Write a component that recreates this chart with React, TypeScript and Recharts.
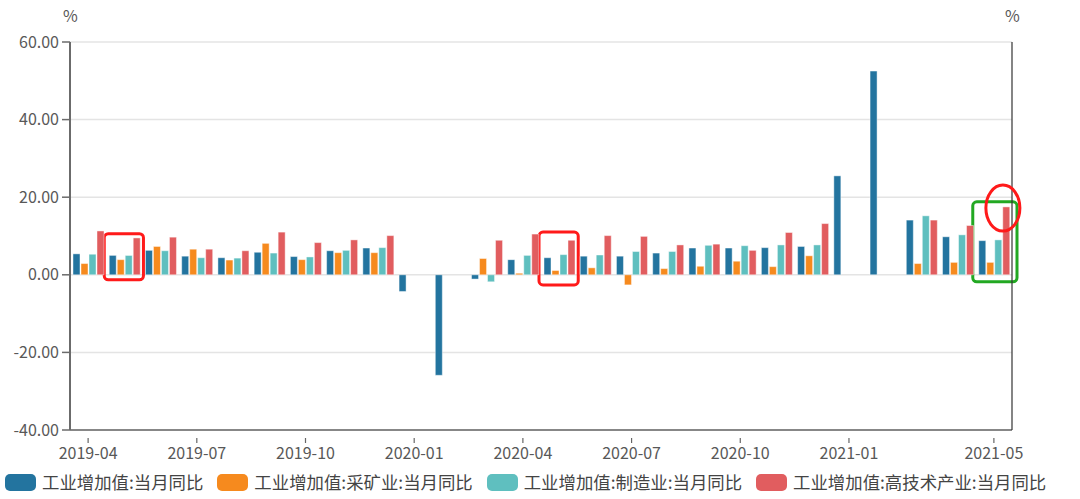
import React from "react";
import {
  BarChart,
  Bar,
  XAxis,
  YAxis,
  CartesianGrid,
  ReferenceArea,
  ReferenceDot,
} from "recharts";

const months = [
  "2019-04", "2019-05", "2019-06", "2019-07", "2019-08", "2019-09", "2019-10",
  "2019-11", "2019-12", "2020-01", "2020-02", "2020-03", "2020-04", "2020-05",
  "2020-06", "2020-07", "2020-08", "2020-09", "2020-10", "2020-11", "2020-12",
  "2021-01", "2021-02", "2021-03", "2021-04", "2021-05",
];

const total = [
  5.4, 5.0, 6.3, 4.8, 4.4, 5.8, 4.7, 6.2, 6.9, -4.3, -25.9, -1.1, 3.9,
  4.4, 4.8, 4.8, 5.6, 6.9, 6.9, 7.0, 7.3, 25.5, 52.5, 14.1, 9.8, 8.8,
];
const mining = [
  2.9, 3.9, 7.3, 6.6, 3.8, 8.1, 3.9, 5.7, 5.7, null, null, 4.2, 0.4,
  1.1, 1.8, -2.6, 1.6, 2.2, 3.5, 2.1, 4.9, null, null, 2.9, 3.2, 3.2,
];
const manufacturing = [
  5.3, 5.0, 6.2, 4.4, 4.3, 5.6, 4.6, 6.3, 7.0, null, null, -1.8, 5.0,
  5.2, 5.1, 6.0, 6.0, 7.6, 7.5, 7.7, 7.7, null, null, 15.2, 10.3, 9.0,
];
const hightech = [
  11.3, 9.5, 9.7, 6.6, 6.2, 11.0, 8.3, 9.0, 10.1, null, null, 8.9, 10.5,
  8.9, 10.1, 9.9, 7.7, 7.9, 6.3, 10.9, 13.2, null, null, 14.1, 12.7, 17.5,
];

const tickLabels = [
  "2019-04", "2019-07", "2019-10", "2020-01", "2020-04",
  "2020-07", "2020-10", "2021-01", "2021-05",
];
const yTicks = [-40, -20, 0, 20, 40, 60];

const seriesNames = [
  "工业增加值:当月同比",
  "工业增加值:采矿业:当月同比",
  "工业增加值:制造业:当月同比",
  "工业增加值:高技术产业:当月同比",
];
const seriesKeys = ["total", "mining", "manufacturing", "hightech"];
const colors = ["#23749f", "#f68a1e", "#5fbfbf", "#e15d5f"];

// highlighted groups: month, y range
const redBoxes = [
  { month: "2019-05", y1: -1.3, y2: 10.6 },
  { month: "2020-05", y1: -2.6, y2: 11.0 },
];
const greenBox = { month: "2021-05", y1: -1.8, y2: 18.8 };
const circleMark = { month: "2021-05", y: 17.2 };

const data = months.map((m, i) => ({
  month: m,
  total: total[i],
  mining: mining[i],
  manufacturing: manufacturing[i],
  hightech: hightech[i],
}));

const FONT = '"Noto Sans CJK SC", "Noto Sans", sans-serif';
const TXT = "#585858";

const XTick = (props: any) => {
  const { x, y, payload } = props;
  if (!tickLabels.includes(payload.value)) return null;
  return (
    <g>
      <line x1={x} x2={x} y1={y} y2={y + 5} stroke="#666" strokeWidth={1.2} />
      <text x={x} y={y + 21} textAnchor="middle" fill={TXT} fontSize={16} fontFamily={FONT}>
        {payload.value}
      </text>
    </g>
  );
};

const boxShape = (stroke: string, padL: number, padR: number) => (p: any) => {
  const { x, y, width, height } = p;
  if (x == null) return null;
  return (
    <rect
      x={x - padL}
      y={y}
      width={width + padL + padR}
      height={height}
      rx={4}
      ry={4}
      fill="none"
      stroke={stroke}
      strokeWidth={3}
    />
  );
};

const circleShape = (p: any) => (
  <ellipse cx={p.cx + 9} cy={p.cy} rx={17} ry={23} fill="none" stroke="#ff1a1a" strokeWidth={3} />
);

export default function App() {
  return (
    <div style={{ position: "fixed", left: 0, top: 0, width: 1080, height: 499, background: "#fff", fontFamily: FONT }}>
      <div style={{ position: "absolute", left: 63, top: 3, fontSize: 16, color: TXT }}>%</div>
      <div style={{ position: "absolute", left: 1005, top: 3, fontSize: 16, color: TXT }}>%</div>
      <BarChart
        width={1080}
        height={499}
        data={data}
        margin={{ top: 42, right: 0, left: 0, bottom: 39 }}
        barSize={7}
        barGap={1}
      >
        <CartesianGrid yAxisId="left" vertical={false} stroke="#e4e4e4" strokeWidth={1.5} />
        <XAxis
          dataKey="month"
          interval={0}
          tickLine={false}
          tick={<XTick />}
          height={30}
          axisLine={{ stroke: "#666", strokeWidth: 1.5 }}
        />
        <YAxis
          yAxisId="left"
          domain={[-40, 60]}
          ticks={yTicks}
          width={70}
          tickSize={8}
          tickMargin={3}
          tickFormatter={(v: number) => v.toFixed(2)}
          tick={{ fill: TXT, fontSize: 16, fontFamily: FONT }}
          axisLine={{ stroke: "#6b6b6b", strokeWidth: 2 }}
          tickLine={{ stroke: "#6b6b6b", strokeWidth: 1.5 }}
        />
        <YAxis
          yAxisId="right"
          orientation="right"
          domain={[-40, 60]}
          ticks={yTicks}
          width={68}
          tickSize={8}
          tickMargin={2}
          tickFormatter={(v: number) => v.toFixed(2)}
          tick={{ fill: TXT, fontSize: 16, fontFamily: FONT, textAnchor: "start" }}
          axisLine={{ stroke: "#333", strokeWidth: 1.2 }}
          tickLine={{ stroke: "#333", strokeWidth: 1.2 }}
        />
        {seriesKeys.map((k, i) => (
          <Bar
            key={k}
            yAxisId="left"
            dataKey={k}
            name={seriesNames[i]}
            fill={colors[i]}
            stroke="rgba(255,255,255,0.55)"
            strokeWidth={0.8}
            isAnimationActive={false}
          />
        ))}
        {redBoxes.map((b) => (
          <ReferenceArea
            key={b.month}
            yAxisId="left"
            x1={b.month}
            x2={b.month}
            y1={b.y1}
            y2={b.y2}
            shape={boxShape("#ff1a1a", 2, 1)}
            ifOverflow="visible"
          />
        ))}
        <ReferenceArea
          yAxisId="left"
          x1={greenBox.month}
          x2={greenBox.month}
          y1={greenBox.y1}
          y2={greenBox.y2}
          shape={boxShape("#22a822", 3, 5)}
          ifOverflow="visible"
        />
        <ReferenceDot
          yAxisId="left"
          x={circleMark.month}
          y={circleMark.y}
          shape={circleShape}
          ifOverflow="visible"
        />
      </BarChart>
      <div
        style={{
          position: "absolute",
          left: 5,
          top: 472,
          display: "flex",
          alignItems: "center",
          gap: 14,
          fontSize: 17.4,
          color: "#444",
          whiteSpace: "nowrap",
        }}
      >
        {seriesNames.map((n, i) => (
          <div key={n} style={{ display: "flex", alignItems: "center", gap: 6 }}>
            <div style={{ width: 31, height: 17, borderRadius: 5, background: colors[i] }} />
            <span style={{ lineHeight: "20px" }}>{n}</span>
          </div>
        ))}
      </div>
    </div>
  );
}
